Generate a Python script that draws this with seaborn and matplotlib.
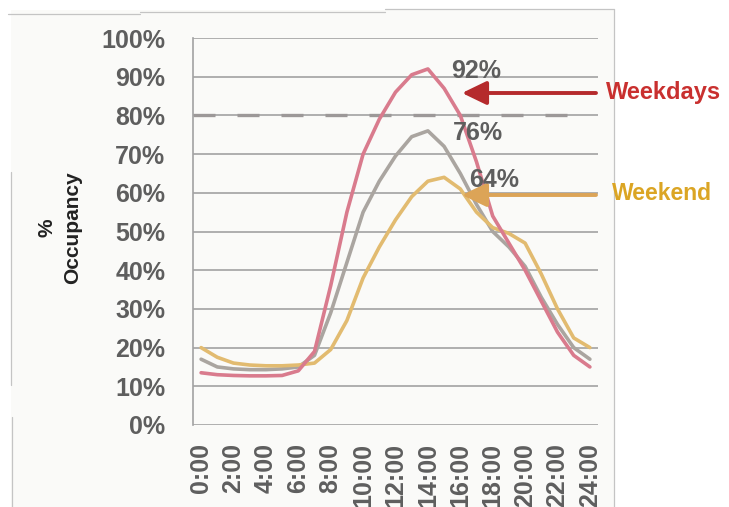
import matplotlib
matplotlib.use("Agg")
import matplotlib.pyplot as plt
from matplotlib.lines import Line2D
from matplotlib.patches import Rectangle
import numpy as np
import pandas as pd
import seaborn as sns

# Hourly occupancy profile (percent of spaces occupied)
hours = list(range(0, 25))
weekdays = [13.5, 13, 12.8, 12.7, 12.7, 12.8, 14, 19, 36, 55, 70, 79, 86, 90.5, 92,
            87, 80, 68, 54, 47, 40, 32, 24, 18, 15]
average = [17, 15, 14.5, 14.3, 14.3, 14.5, 15, 18, 29, 42, 55, 63, 69.5, 74.5, 76,
           72, 65, 57, 50, 46, 41, 33, 26, 20, 17]
weekend = [20, 17.5, 16, 15.5, 15.3, 15.3, 15.5, 16, 19.5, 27, 38, 46, 53, 59, 63,
           64, 61, 55, 51, 49.5, 47, 39, 30, 22.5, 20]
target = 80
yticks = [0, 10, 20, 30, 40, 50, 60, 70, 80, 90, 100]
xticks = list(range(0, 25, 2))
xtick_labels = [f"{h}:00" for h in xticks]

series_names = ["Average", "Weekend", "Weekdays"]
colors = {"Weekdays": "#d97b8d", "Average": "#aaa5a0", "Weekend": "#e2bb70"}

df = pd.concat([
    pd.DataFrame({"hour": hours, "occ": average, "series": "Average"}),
    pd.DataFrame({"hour": hours, "occ": weekend, "series": "Weekend"}),
    pd.DataFrame({"hour": hours, "occ": weekdays, "series": "Weekdays"}),
])

sns.set_theme(style="white")
plt.rcParams["font.family"] = ["Liberation Sans", "DejaVu Sans"]

W, H = 729, 507
fig = plt.figure(figsize=(W / 100, H / 100), dpi=100)

# light page background inside the scanned frame
fig.add_artist(Rectangle((11 / W, 0), (614 - 11) / W, 1 - 10 / H,
                         transform=fig.transFigure, facecolor="#fafaf8",
                         edgecolor="none", zorder=-5))
for (x0, y0, x1, y1) in [(8, 14, 140, 14), (140, 12, 385, 12), (385, 9, 614, 9),
                         (614, 9, 614, 507), (11, 172, 11, 385), (12, 417, 12, 507)]:
    fig.add_artist(Line2D([x0 / W, x1 / W], [1 - y0 / H, 1 - y1 / H],
                          transform=fig.transFigure, color="#c4c4c4", lw=0.9))

ax = fig.add_axes([193 / W, 1 - 425 / H, 405 / W, 387 / H])
ax.set_facecolor("none")

for y in yticks:
    ax.axhline(y, color="#a2a2a2", lw=1.2, zorder=0)

# 80% target line
ax.plot([-0.5, 23.4], [target, target], color="#9c9898", lw=2.4,
        dashes=(6.6, 6.6), zorder=1)

sns.lineplot(data=df, x="hour", y="occ", hue="series", hue_order=series_names,
             palette=colors, lw=2.6, legend=False, ax=ax, zorder=3)

ax.set_xlim(-0.5, 24.5)
ax.set_ylim(0, 100)
ax.set_yticks(yticks)
ax.set_yticklabels([f"{v}%" for v in yticks])
ax.set_xticks(xticks)
ax.set_xticklabels(xtick_labels, rotation=90)
tick_font = dict(fontsize=18, fontweight="bold", color="#5e5e5e")
for lab in ax.get_yticklabels() + ax.get_xticklabels():
    lab.set_fontsize(tick_font["fontsize"])
    lab.set_fontweight(tick_font["fontweight"])
    lab.set_color(tick_font["color"])
ax.tick_params(axis="y", length=0, pad=20)
ax.tick_params(axis="x", length=0, pad=13)
ax.set_xlabel("")
ax.set_ylabel("")
for side in ["top", "right", "bottom"]:
    ax.spines[side].set_visible(False)
ax.spines["left"].set_color("#a2a2a2")
ax.spines["left"].set_linewidth(1.2)

# peak value labels
peaks = [(17.0, max(weekdays)), (17.1, max(average)), (18.1, max(weekend))]
for x, v in peaks:
    ax.text(x, v - 0.6, f"{v:.0f}%", ha="center", va="center", zorder=4,
            **tick_font)

fig.text(606 / W, 1 - 93 / H, "Weekdays", ha="left", va="center", fontsize=17,
         fontweight="bold", color="#c9302f")
fig.text(612 / W, 1 - 193 / H, "Weekend", ha="left", va="center", fontsize=16.5,
         fontweight="bold", color="#dba524")

for (y, lc) in [(93, "#b52a2c"), (195, "#dca457")]:
    ax.annotate("", xy=(462 / W, 1 - y / H), xytext=(596 / W, 1 - y / H),
                xycoords="figure fraction", textcoords="figure fraction",
                arrowprops=dict(arrowstyle="-|>,head_length=0.62,head_width=0.3",
                                mutation_scale=24, lw=2.8, color=lc,
                                shrinkA=0, shrinkB=0), annotation_clip=False)

fig.text(60 / W, 1 - 228 / H, "%\nOccupancy", rotation=90, ha="center",
         va="center", multialignment="center", fontsize=15, fontweight="bold",
         color="#222222", linespacing=1.45)

fig.savefig("out.png", dpi=100)
